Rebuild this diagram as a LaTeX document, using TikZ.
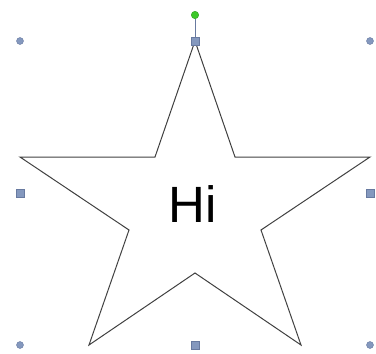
\documentclass[tikz,border=0pt]{standalone}
\usepackage{fontspec}
\setmainfont{Liberation Sans}
\usepackage{tikz}
\definecolor{handlefill}{RGB}{132,152,190}
\definecolor{handleline}{RGB}{104,122,160}
\definecolor{rotgreen}{RGB}{60,200,40}
\definecolor{starline}{RGB}{64,64,64}

\begin{document}
\begin{tikzpicture}[x=1pt,y=-1pt,
    cornerhandle/.style={circle,fill=handlefill,draw=handleline,line width=0.4pt,inner sep=0pt,minimum size=7pt},
    sidehandle/.style={rectangle,fill=handlefill,draw=handleline,line width=0.4pt,inner sep=0pt,minimum size=8.5pt},
    rothandle/.style={circle,fill=rotgreen,draw=rotgreen!80!black,line width=0.4pt,inner sep=0pt,minimum size=7.5pt}]
    \useasboundingbox (0,0) rectangle (376,354);
    % the star
    \draw[starline,line width=1pt,line join=miter] (195,41)--(235,157)--(370,157)--(261,230)--(301,345)
        --(195,273)--(89,345)--(129,230)--(20,157)--(155,157)--cycle;
    \node[anchor=base,font=\fontsize{51}{51}\selectfont] (label) at (193,222) {Hi};
    % selection handles
    \node[cornerhandle] (nw) at (20,41) {};
    \node[cornerhandle] (ne) at (370,41) {};
    \node[cornerhandle] (sw) at (20,345) {};
    \node[cornerhandle] (se) at (370,345) {};
    \node[sidehandle] (n) at (195,41) {};
    \node[sidehandle] (w) at (20,193) {};
    \node[sidehandle] (e) at (370,193) {};
    \node[sidehandle] (s) at (195,345) {};
    \node[rothandle] (rot) at (195,15) {};
    \draw[handleline,line width=0.6pt] (rot)--(n);
\end{tikzpicture}
\end{document}
